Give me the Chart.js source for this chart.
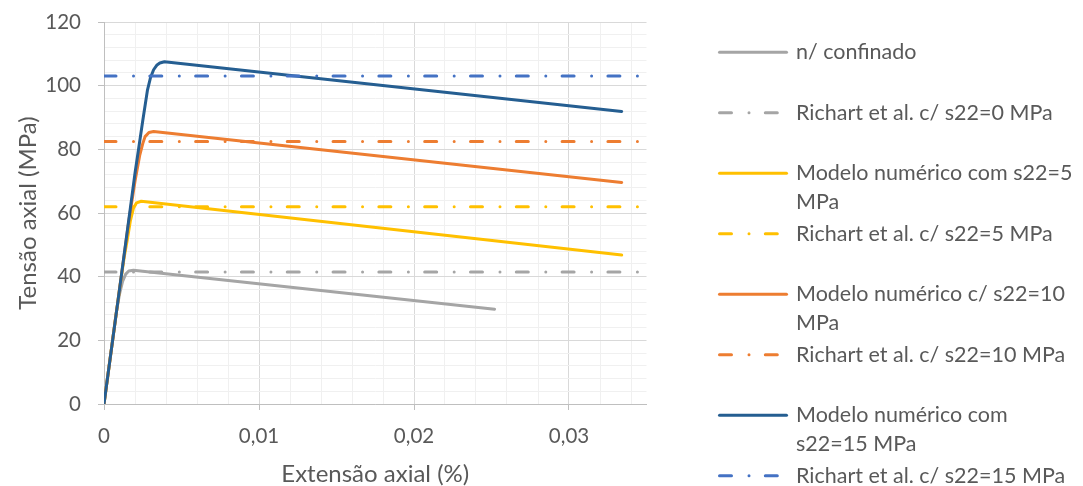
<!DOCTYPE html>
<html>
<head>
<meta charset="utf-8">
<script src="https://cdn.jsdelivr.net/npm/chart.js@4/dist/chart.umd.min.js"></script>
<style>
html,body{margin:0;padding:0;background:#ffffff;}
canvas{display:block;}
</style>
</head>
<body>
<canvas id="c" width="1083" height="486"></canvas>
<script>
// ---------- DATA ----------
const seriesNames = [
  'n/ confinado',
  'Richart et al. c/ s22=0 MPa',
  'Modelo numérico com s22=5 MPa',
  'Richart et al. c/ s22=5 MPa',
  'Modelo numérico c/ s22=10 MPa',
  'Richart et al. c/ s22=10 MPa',
  'Modelo numérico com s22=15 MPa',
  'Richart et al. c/ s22=15 MPa'
];
const legendLines = [
  ['n/ confinado'],
  ['Richart et al. c/ s22=0 MPa'],
  ['Modelo numérico com s22=5', 'MPa'],
  ['Richart et al. c/ s22=5 MPa'],
  ['Modelo numérico c/ s22=10', 'MPa'],
  ['Richart et al. c/ s22=10 MPa'],
  ['Modelo numérico com', 's22=15 MPa'],
  ['Richart et al. c/ s22=15 MPa']
];

// unconfined model
const xUnconfined = [0, 0.0008, 0.001, 0.0012, 0.0014, 0.0016, 0.0019, 0.0252];
const yUnconfined = [0, 29, 34.5, 38.5, 40.8, 41.8, 42.0, 29.8];
// model s22 = 5 MPa
const xModel5 = [0, 0.001, 0.0013, 0.0015, 0.0017, 0.0019, 0.0021, 0.0024, 0.0334];
const yModel5 = [0, 36, 46, 51.5, 57.5, 61.5, 63.2, 63.7, 46.8];
// model s22 = 10 MPa
const xModel10 = [0, 0.001, 0.0016, 0.002, 0.0023, 0.0025, 0.00265, 0.0029, 0.0032, 0.0334];
const yModel10 = [0, 36, 57.5, 70, 78, 81.8, 84, 85.3, 85.6, 69.6];
// model s22 = 15 MPa
const xModel15 = [0, 0.001, 0.002, 0.0025, 0.0028, 0.003, 0.0032, 0.0034, 0.0036, 0.0039, 0.0334];
const yModel15 = [0, 36, 72.5, 89, 98.5, 102.5, 105, 106.4, 107.1, 107.5, 91.9];
// Richart et al. predicted strengths (horizontal lines)
const richartX = [0, 0.0345];
const richart0 = [41.5, 41.5];
const richart5 = [62, 62];
const richart10 = [82.5, 82.5];
const richart15 = [103, 103];

// ticks
const xMajorValues = [0, 0.01, 0.02, 0.03];
const xTickLabels = ['0', '0,01', '0,02', '0,03'];
const yMajorValues = [0, 20, 40, 60, 80, 100, 120];
const yTickLabels = ['0', '20', '40', '60', '80', '100', '120'];
const xAxisTitle = 'Extensão axial (%)';
const yAxisTitle = 'Tensão axial (MPa)';

// ---------- STYLE ----------
const FONT = 'Lato';
const TEXT = '#595959';
const MAJOR_GRID = '#d9d9d9';
const MINOR_GRID = '#f0f0f0';
const AXIS = '#bfbfbf';
const DASHDOT = [12, 17.5, 0.01, 16.3];

const xs = [xUnconfined, richartX, xModel5, richartX, xModel10, richartX, xModel15, richartX];
const ys = [yUnconfined, richart0, yModel5, richart5, yModel10, richart10, yModel15, richart15];
const colors = ['#a5a5a5', '#a5a5a5', '#ffc000', '#ffc000', '#ed7d31', '#ed7d31', '#255e91', '#4472c4'];
const dashed = [false, true, false, true, false, true, false, true];

const datasets = seriesNames.map((name, i) => ({
  label: name,
  data: xs[i].map((x, k) => ({x: x, y: ys[i][k]})),
  borderColor: colors[i],
  backgroundColor: colors[i],
  borderWidth: 3,
  borderDash: dashed[i] ? DASHDOT : [],
  borderCapStyle: 'round',
  borderJoinStyle: 'round',
  pointRadius: 0,
  tension: 0,
  fill: false,
  order: seriesNames.length - i
}));

function near(a, b) { return Math.abs(a - b) < 1e-9; }
function xMajorIndex(v) { return xMajorValues.findIndex(m => near(m, v)); }
function yMajorIndex(v) { return yMajorValues.findIndex(m => near(m, v)); }

const legendPlugin = {
  id: 'sideLegend',
  afterDraw(chart) {
    const ctx = chart.ctx;
    const x0 = 718, x1 = 788, textX = 796;
    const top = 52.3, step = 60.5, lineH = 28.4;
    ctx.save();
    legendLines.forEach((lines, i) => {
      const y = top + i * step;
      ctx.beginPath();
      ctx.strokeStyle = colors[i];
      ctx.lineWidth = 3;
      ctx.lineCap = 'round';
      ctx.setLineDash(dashed[i] ? DASHDOT : []);
      ctx.moveTo(x0 + 1.5, y);
      ctx.lineTo(x1 - 1.5, y);
      ctx.stroke();
      ctx.setLineDash([]);
      ctx.fillStyle = TEXT;
      ctx.font = '21.5px ' + FONT;
      ctx.textBaseline = 'middle';
      ctx.textAlign = 'left';
      lines.forEach((t, j) => ctx.fillText(t, textX, y + j * lineH));
    });
    ctx.restore();
  }
};

new Chart(document.getElementById('c'), {
  type: 'line',
  data: { datasets },
  plugins: [legendPlugin],
  options: {
    responsive: false,
    animation: false,
    events: [],
    layout: { padding: { left: 0, top: 22, right: 436.5, bottom: 0 } },
    plugins: { legend: { display: false }, tooltip: { enabled: false } },
    scales: {
      x: {
        type: 'linear',
        min: 0,
        max: 0.035,
        afterBuildTicks(scale) {
          const t = [];
          for (let k = 0; k <= 17; k++) t.push({ value: +(k * 0.002).toFixed(4) });
          scale.ticks = t;
        },
        afterFit(scale) {
          scale.height = 82;
          scale.paddingLeft = 0; scale.paddingRight = 0;
          scale.paddingTop = 0; scale.paddingBottom = 0;
        },
        ticks: {
          autoSkip: false,
          maxRotation: 0,
          padding: 14,
          color: TEXT,
          font: { family: FONT, size: 20.5 },
          callback(v) { const i = xMajorIndex(v); return i >= 0 ? xTickLabels[i] : ''; }
        },
        grid: {
          color(c) { return c.tick && xMajorIndex(c.tick.value) >= 0 ? MAJOR_GRID : MINOR_GRID; },
          tickColor(c) { return c.tick && xMajorIndex(c.tick.value) >= 0 ? AXIS : 'rgba(0,0,0,0)'; },
          tickLength: 6,
          lineWidth: 1
        },
        border: { display: true, color: AXIS, width: 1 },
        title: {
          display: true,
          text: xAxisTitle,
          color: TEXT,
          font: { family: FONT, size: 24, lineHeight: 1 },
          padding: { top: 0, bottom: 0 }
        }
      },
      y: {
        type: 'linear',
        min: 0,
        max: 120,
        afterFit(scale) {
          scale.width = 104;
          scale.paddingLeft = 0; scale.paddingRight = 0;
          scale.paddingTop = 0; scale.paddingBottom = 0;
        },
        ticks: {
          stepSize: 4,
          autoSkip: false,
          padding: 17,
          color: TEXT,
          font: { family: FONT, size: 20.5 },
          callback(v) { const i = yMajorIndex(v); return i >= 0 ? yTickLabels[i] : ''; }
        },
        grid: {
          color(c) { return c.tick && yMajorIndex(c.tick.value) >= 0 ? MAJOR_GRID : MINOR_GRID; },
          tickColor(c) { return c.tick && yMajorIndex(c.tick.value) >= 0 ? AXIS : 'rgba(0,0,0,0)'; },
          tickLength: 6,
          lineWidth: 1
        },
        border: { display: true, color: AXIS, width: 1 },
        title: {
          display: true,
          text: yAxisTitle,
          color: TEXT,
          font: { family: FONT, size: 24, lineHeight: 1 },
          padding: { top: 16, bottom: 0 }
        }
      }
    }
  }
});
</script>
</body>
</html>
